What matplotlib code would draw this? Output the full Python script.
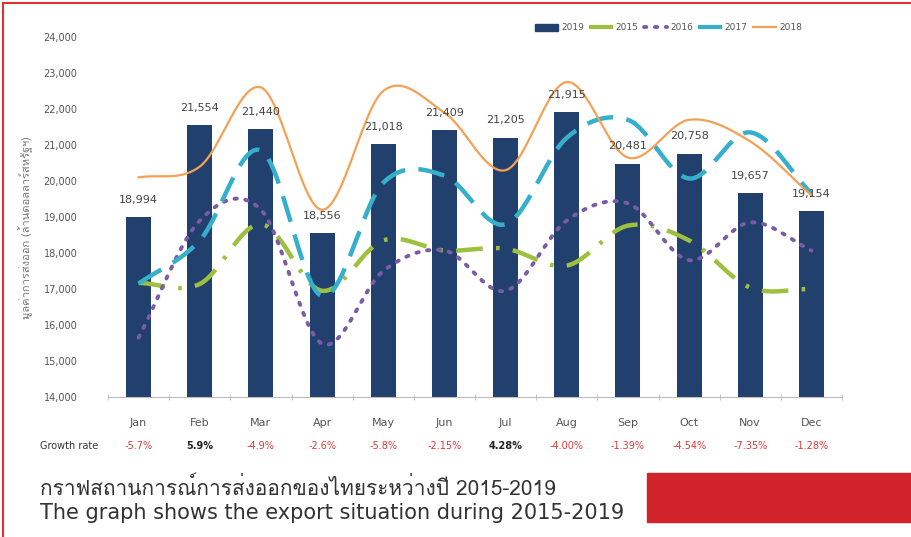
import numpy as np
import matplotlib
matplotlib.use("Agg")
import matplotlib.pyplot as plt
from matplotlib import font_manager
from matplotlib.ft2font import FT2Font
from matplotlib.lines import Line2D
from matplotlib.patches import Rectangle
import matplotlib.transforms as mtransforms

# ---------------- data ----------------
months = ["Jan", "Feb", "Mar", "Apr", "May", "Jun", "Jul", "Aug", "Sep", "Oct", "Nov", "Dec"]
v2019 = [18994, 21554, 21440, 18556, 21018, 21409, 21205, 21915, 20481, 20758, 19657, 19154]
bar_labels = ["18,994", "21,554", "21,440", "18,556", "21,018", "21,409", "21,205", "21,915",
              "20,481", "20,758", "19,657", "19,154"]
v2015 = [17170, 17140, 18800, 16950, 18350, 18070, 18120, 17650, 18760, 18350, 17040, 17000]
v2016 = [15650, 18900, 19200, 15480, 17500, 18070, 16950, 18900, 19380, 17800, 18850, 18070]
v2017 = [17150, 18350, 20850, 16800, 19950, 20150, 18800, 21200, 21700, 20070, 21350, 19650]
v2018 = [20100, 20400, 22600, 19200, 22500, 21900, 20300, 22750, 20650, 21700, 21100, 19600]
growth = ["-5.7%", "5.9%", "-4.9%", "-2.6%", "-5.8%", "-2.15%", "4.28%", "-4.00%",
          "-1.39%", "-4.54%", "-7.35%", "-1.28%"]
yticks = list(range(14000, 24001, 1000))
ylabel_th = "มูลค่าการส่งออก (ล้านดอลลาร์สหรัฐฯ)"
caption_th = "กราฟสถานการณ์การส่งออกของไทยระหว่างปี 2015-2019"
caption_en = "The graph shows the export situation during 2015-2019"

# ---------------- fonts ----------------
def find_thai_font():
    prefs = []
    for f in font_manager.fontManager.ttflist:
        try:
            cm = FT2Font(f.fname).get_charmap()
        except Exception:
            continue
        if ord("ก") in cm:
            prefs.append(f.name)
    return prefs

thai = find_thai_font()
fam = (thai[:1] if thai else []) + ["DejaVu Sans"]
plt.rcParams["font.family"] = ["DejaVu Sans"]

# ---------------- smoothing for drawing ----------------
def smooth(x, y, n=30):
    x = np.asarray(x, float); y = np.asarray(y, float)
    P = np.column_stack([x, y])
    P = np.vstack([P[0] * 2 - P[1], P, P[-1] * 2 - P[-2]])
    out = []
    t = np.linspace(0, 1, n)
    for i in range(1, len(P) - 2):
        p0, p1, p2, p3 = P[i - 1], P[i], P[i + 1], P[i + 2]
        m1 = (p2 - p0) / 2; m2 = (p3 - p1) / 2
        h00 = 2 * t**3 - 3 * t**2 + 1; h10 = t**3 - 2 * t**2 + t
        h01 = -2 * t**3 + 3 * t**2; h11 = t**3 - t**2
        seg = (h00[:, None] * p1 + h10[:, None] * m1 + h01[:, None] * p2 + h11[:, None] * m2)
        out.append(seg if i == 1 else seg[1:])
    S = np.vstack(out)
    return S[:, 0], S[:, 1]

# ---------------- figure ----------------
W, H = 911, 537
fig = plt.figure(figsize=(W / 100, H / 100), dpi=100)
ax = fig.add_axes([108 / W, 1 - 397 / H, (842 - 108) / W, 360 / H])
x = np.arange(len(months))

navy = "#22406E"
c2015 = "#9DC13F"
c2016 = "#7A5BA6"
c2017 = "#35AFCB"
c2018 = "#F4A055"

ax.bar(x, v2019, width=0.41, color=navy, zorder=2)
for xi, v, lab in zip(x, v2019, bar_labels):
    ax.text(xi, v + 480, lab, ha="center", va="center", fontsize=8, color="#444444", zorder=5)

sx, sy = smooth(x, v2015)
ax.plot(sx, sy, color=c2015, lw=3.2, dashes=(6, 3, 0.8, 3), zorder=3)
sx, sy = smooth(x, v2016)
ax.plot(sx, sy, color=c2016, lw=2.8, dashes=(0.6, 2.2), dash_capstyle="round", zorder=3)
sx, sy = smooth(x, v2017)
ax.plot(sx, sy, color=c2017, lw=3.2, dashes=(6, 3), zorder=3)
sx, sy = smooth(x, v2018)
ax.plot(sx, sy, color=c2018, lw=1.6, zorder=4)

ax.set_xlim(-0.5, 11.5)
ax.set_ylim(14000, 24000)
ax.set_yticks(yticks)
ax.set_yticklabels([f"{t:,}" for t in yticks], fontsize=7, color="#555555")
ax.tick_params(axis="y", length=0, pad=22)
ax.set_xticks(x)
ax.set_xticklabels(months, fontsize=8, color="#555555")
ax.tick_params(axis="x", length=0, pad=15)
ax.set_xticks(np.arange(-0.5, 12, 1), minor=True)
ax.tick_params(axis="x", which="minor", length=5, direction="inout", color="#BBBBBB")
for s in ["top", "right", "left"]:
    ax.spines[s].set_visible(False)
ax.spines["bottom"].set_color("#BBBBBB")

ax.set_ylabel(ylabel_th, family=fam, fontsize=8, color="#777777", labelpad=4)
ax.yaxis.set_label_coords(-0.102, 0.47)

trans = mtransforms.blended_transform_factory(ax.transData, ax.transAxes)
for xi, g in zip(x, growth):
    col = "#222222" if not g.startswith("-") else "#E03A3A"
    ax.text(xi, -0.137, g, transform=trans, ha="center", va="center", fontsize=7,
            color=col, fontweight="bold" if col == "#222222" else "normal")
fig.text(40 / W, 1 - 446 / H, "Growth rate", fontsize=7, color="#333333", va="center", ha="left")

handles = [Rectangle((0, 0), 1, 1, color=navy),
           Line2D([], [], color=c2015, lw=3, dashes=(6, 3, 0.8, 3)),
           Line2D([], [], color=c2016, lw=2.8, dashes=(0.6, 2.2), dash_capstyle="round"),
           Line2D([], [], color=c2017, lw=3, dashes=(6, 3)),
           Line2D([], [], color=c2018, lw=1.6)]
fig.legend(handles, ["2019", "2015", "2016", "2017", "2018"], loc="center right",
           bbox_to_anchor=(810 / W, 1 - 28 / H), ncol=5, frameon=False, fontsize=6.5,
           handlelength=2.6, handletextpad=0.3, columnspacing=0.6, labelcolor="#555555")

# captions and decoration
fig.text(40 / W, 1 - 488 / H, caption_th, family=fam, fontsize=15, color="#333333", va="center")
fig.text(40 / W, 1 - 513 / H, caption_en, fontsize=15, color="#333333", va="center")
fig.patches.append(Rectangle((647 / W, 1 - 522 / H), (911 - 647) / W, 49 / H,
                             transform=fig.transFigure, color="#D2232A", zorder=0))
fig.lines.append(Line2D([3 / W, 3 / W], [0, 1 - 3 / H], transform=fig.transFigure,
                        color="#E03030", lw=1.5))
fig.lines.append(Line2D([3 / W, 1], [1 - 3 / H, 1 - 3 / H], transform=fig.transFigure,
                        color="#E03030", lw=1.5))

fig.savefig("out.png", dpi=100)
